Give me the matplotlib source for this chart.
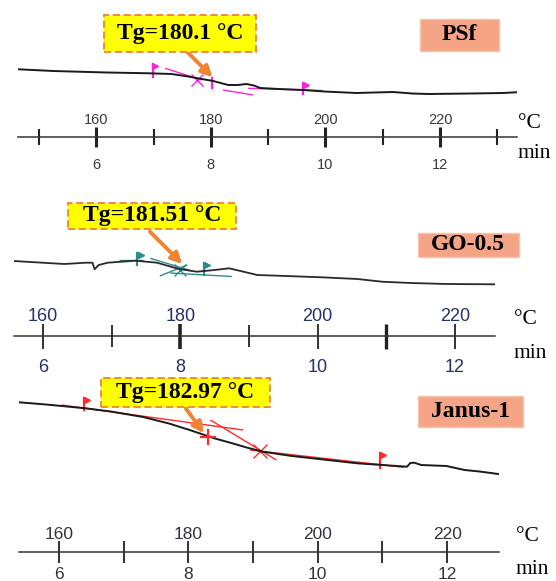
import matplotlib
matplotlib.use("Agg")
import matplotlib.pyplot as plt
from matplotlib.patches import Rectangle
from matplotlib.ticker import FixedLocator, FixedFormatter

plt.rcParams['font.family'] = ['Liberation Sans', 'DejaVu Sans']

# ---------------- data ----------------
major_T = [160, 180, 200, 220]
temp_labels = ['160', '180', '200', '220']
time_labels = ['6', '8', '10', '12']
minor_T = [150, 170, 190, 210, 230]

sample_names = ['PSf', 'GO-0.5', 'Janus-1']
tg_values = [180.1, 181.51, 182.97]
tg_texts = ['Tg=180.1 °C', 'Tg=181.51 °C', 'Tg=182.97 °C']

# PSf DSC trace (temperature, heat flow a.u.)
psf_T = [146.4, 152.5, 161.9, 169.3, 173.1, 175.5, 177.9, 180.4, 183.0, 184.7, 186.2,
         187.5, 188.6, 191.8, 196.1, 199.8, 205.4, 211.8, 215.1, 218.0, 225.4, 231.0, 233.3]
psf_hf = [3.57, 3.40, 3.25, 3.17, 3.10, 2.90, 2.65, 2.40, 2.00, 2.00, 2.10,
          1.95, 1.70, 1.60, 1.50, 1.35, 1.20, 1.30, 1.15, 1.10, 1.15, 1.20, 1.27]
psf_tan_T = [(172.0, 178.4), (182.1, 187.4), (186.5, 199.5)]
psf_tan_hf = [(3.67, 2.50), (1.50, 1.00), (1.67, 1.45)]
psf_flag_T = [169.8, 196.1]
psf_flag_hf = [(2.83, 4.10), (1.07, 2.17)]
psf_mid = (180.1, 1.67, 2.67)
psf_x = (177.5, 2.50)
psf_tip = (180.3, 2.77)

# GO-0.5 DSC trace
go_T = [155.7, 163.1, 166.2, 167.2, 167.5, 168.1, 169.4, 173.5, 176.6, 179.8, 182.4,
        185.0, 187.1, 189.2, 191.2, 195.4, 200.6, 205.8, 209.4, 213.6, 218.8, 225.8]
go_hf = [2.90, 2.60, 2.73, 2.73, 2.07, 2.50, 2.73, 2.93, 2.73, 2.10, 1.83,
         2.00, 2.17, 1.83, 1.50, 1.40, 1.27, 1.10, 0.83, 0.70, 0.60, 0.57]
go_tan_T = [(171.0, 174.5), (175.6, 181.5), (177.0, 181.0), (178.5, 187.5)]
go_tan_hf = [(2.95, 2.95), (3.17, 1.95), (1.40, 2.50), (1.70, 1.35)]
go_flag_T = [173.7, 183.4]
go_flag_hf = [(2.50, 3.67), (1.50, 2.67)]
go_x = (179.9, 2.00)
go_tip = (180.3, 2.60)

# Janus-1 DSC trace
jn_T = [153.8, 158.0, 164.1, 168.0, 173.0, 177.0, 180.2, 184.0, 186.8, 189.0, 191.5, 196.0,
        200.6, 206.1, 210.0, 213.8, 214.3, 214.9, 216.0, 219.9, 222.7, 225.0, 227.9]
jn_hf = [7.77, 7.55, 7.17, 6.85, 6.30, 5.65, 5.00, 4.17, 3.67, 3.25, 2.83, 2.40,
         2.07, 1.67, 1.50, 1.33, 1.70, 1.73, 1.50, 1.40, 1.00, 0.85, 0.60]
jn_tan_T = [(160.4, 188.5), (183.4, 193.6), (189.5, 213.3)]
jn_tan_hf = [(7.50, 5.00), (6.00, 2.00), (3.00, 1.27)]
jn_flag_T = [163.8, 209.6]
jn_flag_hf = [(7.00, 8.17), (1.17, 2.67)]
jn_plus = (183.1, 4.33)
jn_x = (191.1, 2.90)
jn_tip = (182.4, 4.67)

# ---------------- layout ----------------
W, H = 556, 581
fig = plt.figure(figsize=(W / 100, H / 100), dpi=100)


def frac(x0, y0, x1, y1):
    return [x0 / W, 1 - y1 / H, (x1 - x0) / W, (y1 - y0) / H]


ORANGE = '#ee8434'
YELLOW = '#ffff00'
SALMON = '#f5a586'
BLACK = '#1a1a1a'


def scale_axis(x0, x1, yline, tlim, fs, color, majlen, minlen, majw, minw, top_pad, bot_pad):
    ax = fig.add_axes(frac(x0, yline - 30, x1, yline + 30))
    ax.set_xlim(*tlim)
    ax.set_ylim(0, 1)
    ax.patch.set_visible(False)
    for s in ['top', 'left', 'right']:
        ax.spines[s].set_visible(False)
    ax.spines['bottom'].set_position(('axes', 0.5))
    ax.spines['bottom'].set_linewidth(1.1)
    ax.spines['bottom'].set_color('#333333')
    ax.set_yticks([])
    ax.xaxis.set_major_locator(FixedLocator(major_T))
    ax.xaxis.set_major_formatter(FixedFormatter(time_labels))
    ax.xaxis.set_minor_locator(FixedLocator([t for t in minor_T if tlim[0] <= t <= tlim[1]]))
    ax.tick_params(axis='x', which='major', direction='inout', length=majlen, width=majw,
                   color='#222222', labelsize=fs, labelcolor=color, pad=bot_pad)
    ax.tick_params(axis='x', which='minor', direction='inout', length=minlen, width=minw,
                   color='#222222')
    sec = ax.secondary_xaxis(0.5)
    sec.xaxis.set_major_locator(FixedLocator(major_T))
    sec.xaxis.set_major_formatter(FixedFormatter(temp_labels))
    sec.tick_params(axis='x', length=0, labelsize=fs, labelcolor=color, pad=top_pad)
    for s in sec.spines.values():
        s.set_visible(False)
    return ax


def curve_axis(x0, x1, ytop, ybot, tlim, ylim):
    ax = fig.add_axes(frac(x0, ytop, x1, ybot))
    ax.set_xlim(*tlim)
    ax.set_ylim(*ylim)
    ax.axis('off')
    return ax


def box(x0, y0, x1, y1, face, edge, ls, lw, text, fs):
    r = Rectangle((x0 / W, 1 - y1 / H), (x1 - x0) / W, (y1 - y0) / H, transform=fig.transFigure,
                  facecolor=face, edgecolor=edge, linestyle=ls, linewidth=lw, zorder=5)
    fig.add_artist(r)
    fig.text((x0 + x1) / 2 / W, 1 - (y0 + y1) / 2 / H, text, ha='center', va='center',
             family=['Liberation Serif', 'DejaVu Serif'], weight='bold', fontsize=fs,
             color='black', zorder=6)


def units(x, yc, yt):
    fig.text(x / W, 1 - yc / H, '°C', ha='left', va='center', fontsize=15.5,
             family=['Liberation Serif', 'DejaVu Serif'], color='black')
    fig.text(x / W, 1 - yt / H, 'min', ha='left', va='center', fontsize=15.5,
             family=['Liberation Serif', 'DejaVu Serif'], color='black')


def arrow(ax, tip, tail_px):
    ax.annotate('', xy=tip, xycoords='data',
                xytext=(tail_px[0] / W, 1 - tail_px[1] / H), textcoords='figure fraction',
                arrowprops=dict(arrowstyle='-|>', color=ORANGE, lw=2.8, mutation_scale=16,
                                shrinkA=0, shrinkB=0),
                annotation_clip=False, zorder=7)


def construction(ax, tT, thf, fT, fhf, col, flag_dx):
    for (a, b), (c, d) in zip(tT, thf):
        ax.plot([a, b], [c, d], color=col, lw=1.0, solid_capstyle='butt', zorder=3)
    for t, (lo, hi) in zip(fT, fhf):
        ax.plot([t, t], [lo, hi], color=col, lw=1.6, zorder=3)
        ax.plot([t + flag_dx], [hi - 0.12 * (hi - lo)], marker='>', ms=4.5, color=col,
                mec=col, zorder=3)


# ---------------- Panel 1: PSf ----------------
t1 = (146.3, 233.4)
a1 = curve_axis(17.9, 516.8, 55, 105, t1, (0, 5))
a1.plot(psf_T, psf_hf, color=BLACK, lw=1.4, zorder=4)
construction(a1, psf_tan_T, psf_tan_hf, psf_flag_T, psf_flag_hf, '#ff22dd', 0.5)
a1.plot([psf_mid[0]] * 2, psf_mid[1:], color='#ff22dd', lw=1.6, zorder=3)
a1.plot(*psf_x, marker='x', ms=8, mew=1.0, color='#ff22dd', zorder=3)
s1 = scale_axis(17.9, 516.8, 137, t1, 10.5, '#3a3a3a', 15, 12, 2.2, 1.5, 7.0, 7.3)
units(518, 123, 154)
box(103.6, 15, 256, 51.7, YELLOW, ORANGE, (0, (4, 2)), 1.3, tg_texts[0], 17)
box(420, 19, 499, 50.7, SALMON, '#f7c3ad', '-', 1.0, sample_names[0], 17)
arrow(a1, psf_tip, (182, 46.7))

# ---------------- Panel 2: GO-0.5 ----------------
t2 = (155.7, 225.8)
a2 = curve_axis(13.6, 494.6, 245, 290, t2, (0, 4.5))
a2.plot(go_T, go_hf, color='#2a2a2a', lw=1.3, zorder=4)
construction(a2, go_tan_T, go_tan_hf, go_flag_T, go_flag_hf, '#2e8b87', 0.5)
a2.plot(*go_x, marker='x', ms=9, mew=1.0, color='#2e8b87', zorder=3)
s2 = scale_axis(13.6, 494.6, 335.7, t2, 13, '#26306a', 18, 16, 1.3, 1.3, 7.5, 7.8)
for tk, val in zip(s2.xaxis.get_major_ticks(), major_T):
    if val == 180:
        tk.tick1line.set_markeredgewidth(2.6)
minor2 = [t for t in minor_T if t2[0] <= t <= t2[1]]
for tk, val in zip(s2.xaxis.get_minor_ticks(), minor2):
    if val == 210:
        tk.tick1line.set_markeredgewidth(2.4)
        tk.tick1line.set_markersize(18)
units(514, 320, 353)
box(67.9, 202.7, 235.7, 229.3, YELLOW, ORANGE, (0, (4, 2)), 1.3, tg_texts[1], 17)
box(417.9, 233.3, 518.6, 256.7, SALMON, '#f7c3ad', '-', 1.0, sample_names[1], 17)
arrow(a2, go_tip, (150, 231.7))

# ---------------- Panel 3: Janus-1 ----------------
t3 = (153.8, 228.0)
a3 = curve_axis(18.9, 498.9, 390, 480, t3, (0, 9))
a3.plot(jn_T, jn_hf, color=BLACK, lw=1.4, zorder=4)
construction(a3, jn_tan_T, jn_tan_hf, jn_flag_T, jn_flag_hf, '#ff2a2a', 0.5)
a3.plot(*jn_plus, marker='+', ms=11, mew=1.6, color='#ff2a2a', zorder=5)
a3.plot(*jn_x, marker='x', ms=10, mew=1.0, color='#ff2a2a', zorder=3)
s3 = scale_axis(18.9, 498.9, 551.7, t3, 12.5, '#333340', 15.5, 15.5, 1.3, 1.3, 7.0, 3.6)
units(516, 536.7, 570)
box(101, 378.3, 269.6, 406.7, YELLOW, ORANGE, (0, (4, 2)), 1.3, tg_texts[2], 17)
box(417.9, 396, 522.5, 426.7, SALMON, '#f7c3ad', '-', 1.0, sample_names[2], 17)
arrow(a3, jn_tip, (185.7, 408.3))

fig.savefig('out.png', dpi=100)
